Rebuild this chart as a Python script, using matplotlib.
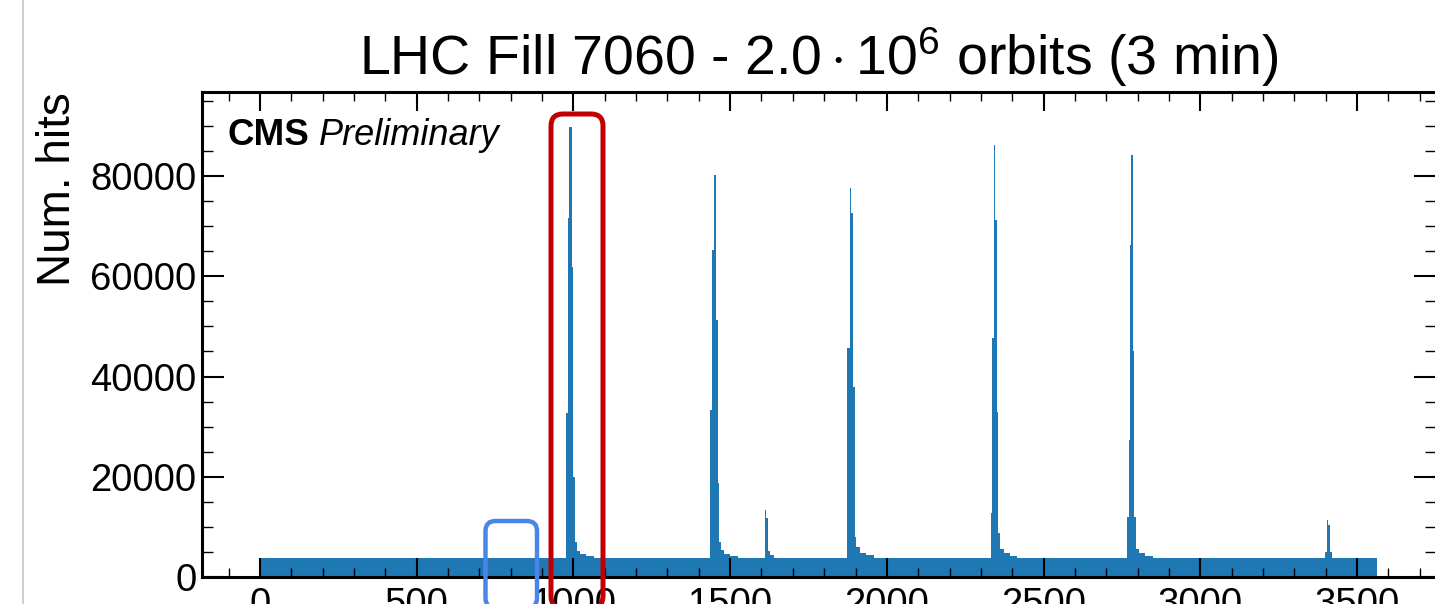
import numpy as np
from matplotlib import pyplot as plt
from matplotlib.patches import FancyBboxPatch
from matplotlib.lines import Line2D
from matplotlib.transforms import IdentityTransform

plt.rcParams["font.family"] = ["Liberation Sans", "DejaVu Sans"]
plt.rcParams["mathtext.fontset"] = "custom"
plt.rcParams["mathtext.rm"] = "Liberation Sans"
plt.rcParams["mathtext.it"] = "Liberation Sans:italic"
plt.rcParams["mathtext.bf"] = "Liberation Sans:bold"

# Data: hits per bunch crossing (BX) -- flat background plus bunch-train peaks
n_bx = 3564
base_level = 3800

peak1_edges = [976, 982, 987, 994, 999, 1004, 1010, 1022, 1040, 1065]
peak1_counts = [32700, 71600, 89800, 61900, 20000, 7000, 5200, 4600, 4200]

peak2_edges = [1437, 1442, 1447, 1455, 1460, 1465, 1470, 1482, 1500, 1525]
peak2_counts = [33300, 65200, 80200, 51300, 18750, 7000, 5400, 4600, 4200]

peak3_edges = [1612, 1616, 1621, 1628, 1640]
peak3_counts = [13400, 11800, 5200, 4300]

peak4_edges = [1872, 1882, 1887, 1892, 1897, 1903, 1915, 1935, 1960]
peak4_counts = [45700, 77600, 72600, 37900, 8000, 6000, 4800, 4300]

peak5_edges = [2331, 2336, 2342, 2346, 2351, 2356, 2361, 2373, 2392, 2415]
peak5_counts = [12800, 47700, 86200, 71200, 32900, 8800, 5600, 4700, 4200]

peak6_edges = [2766, 2771, 2776, 2780, 2784, 2789, 2794, 2806, 2825, 2850]
peak6_counts = [12000, 27300, 66200, 84200, 45000, 12000, 5600, 4700, 4200]

peak7_edges = [3398, 3404, 3409, 3414, 3420]
peak7_counts = [5050, 11400, 10400, 5050]

x_ticks = [0, 500, 1000, 1500, 2000, 2500, 3000, 3500]
y_ticks = [0, 20000, 40000, 60000, 80000]

blue = "#1f77b4"

fig = plt.figure(figsize=(14.35, 6.04), dpi=100)
ax = fig.add_axes([202 / 1435, 27 / 604, 1234 / 1435, 485 / 604])

ax.stairs([base_level], [0, n_bx], fill=True, color=blue, linewidth=0)
for e, c in [
    (peak1_edges, peak1_counts),
    (peak2_edges, peak2_counts),
    (peak3_edges, peak3_counts),
    (peak4_edges, peak4_counts),
    (peak5_edges, peak5_counts),
    (peak6_edges, peak6_counts),
    (peak7_edges, peak7_counts),
]:
    ax.stairs(c, e, fill=True, color=blue, linewidth=0.6)

ax.set_xlim(-185, 3752)
ax.set_ylim(0, 96760)
ax.set_xticks(x_ticks)
ax.set_yticks(y_ticks)
ax.set_xticks(np.arange(-100, 3800, 100), minor=True)
ax.set_yticks(np.arange(0, 96000, 5000), minor=True)

for s in ax.spines.values():
    s.set_linewidth(2.2)
ax.tick_params(which="both", direction="in", top=True, right=True, labelsize=27.5)
ax.tick_params(axis="x", which="major", length=13.5, width=1.5, pad=7)
ax.tick_params(axis="x", which="minor", length=6.5, width=1.0)
ax.tick_params(axis="y", which="major", length=16, width=1.5, pad=4)
ax.tick_params(axis="y", which="minor", length=8, width=1.0)

ax.set_ylabel("Num. hits", fontsize=33, loc="top")
ax.yaxis.set_label_coords(-0.099, 1.0)
ax.set_title(r"LHC Fill 7060 - $2.0\cdot10^{6}$ orbits (3 min)", fontsize=40, pad=12)

ax.text(0.021, 0.891, "CMS", transform=ax.transAxes, fontsize=26.5, fontweight="bold")
ax.text(0.095, 0.891, "Preliminary", transform=ax.transAxes, fontsize=26, style="italic")

# Slide annotations (pixel coordinates, origin bottom-left)
H = 604
red_box = FancyBboxPatch((551, H - 608), 52, 608 - 114,
                         boxstyle="round,pad=0,rounding_size=12",
                         transform=IdentityTransform(), fill=False,
                         edgecolor="#c00000", linewidth=3.6, clip_on=False)
blue_box = FancyBboxPatch((485.5, H - 608), 51.5, 608 - 521,
                          boxstyle="round,pad=0,rounding_size=10",
                          transform=IdentityTransform(), fill=False,
                          edgecolor="#4a86e8", linewidth=3.2, clip_on=False)
fig.add_artist(red_box)
fig.add_artist(blue_box)
fig.add_artist(Line2D([22.5, 22.5], [0, H], transform=IdentityTransform(),
                      color="#c4c4c4", linewidth=1.2))

fig.savefig("out.png", dpi=100)
